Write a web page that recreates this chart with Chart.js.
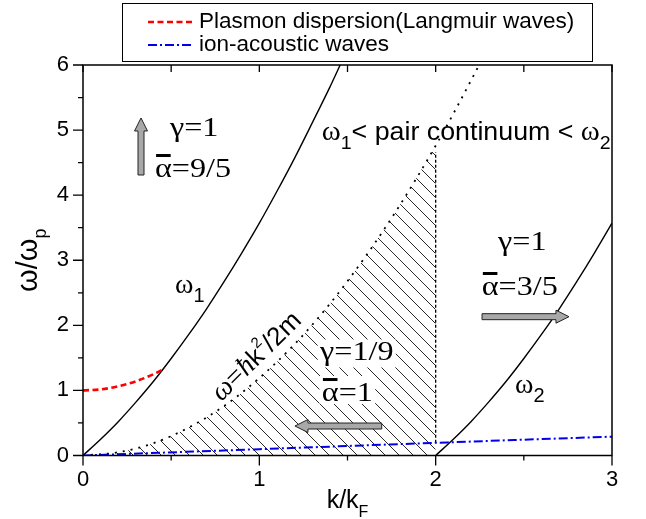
<!DOCTYPE html>
<html><head><meta charset="utf-8">
<script src="https://cdn.jsdelivr.net/npm/chart.js@4/dist/chart.umd.min.js"></script>
<style>html,body{margin:0;padding:0;background:#fff;}#wrap{width:646px;height:519px;}</style>
</head><body><div id="wrap"><canvas id="c" width="646" height="519"></canvas></div>
<script>
// ---- data (k/kF, omega/omega_p) ----
const kOmega1 = [0,0.1,0.2,0.3,0.4,0.5,0.6,0.7,0.8,0.9,1.0,1.1,1.2,1.3,1.4,1.46];
const omega1  = [0,0.25,0.52,0.82,1.14,1.49,1.86,2.25,2.67,3.11,3.57,4.06,4.57,5.11,5.66,6.01];
const kOmega2 = [2.0,2.1,2.2,2.3,2.4,2.5,2.6,2.7,2.8,2.9,3.0];
const omega2  = [0,0.25,0.52,0.82,1.14,1.49,1.86,2.25,2.67,3.11,3.57];
const kFree     = [0,0.2,0.4,0.6,0.8,1.0,1.2,1.4,1.6,1.8,2.0,2.1,2.2,2.25];
const omegaFree = [0,0.05,0.19,0.43,0.76,1.19,1.71,2.33,3.05,3.86,4.76,5.25,5.76,6.02];
const kPlasmon     = [0,0.1,0.2,0.3,0.4,0.465];
const omegaPlasmon = [1.0,1.016,1.063,1.14,1.25,1.34];
const kIon     = [0,1,2,3];
const omegaIon = [0,0.097,0.195,0.29];
const kEdge     = [2,2];
const omegaEdge = [0.195,4.66];
const hatchMaxK = 2;
const xTickValues = [0,1,2,3];
const xMinorTicks = [0.5,1.5,2.5];
const yTickValues = [0,1,2,3,4,5,6];
const yMinorTicks = [0.5,1.5,2.5,3.5,4.5,5.5];
const seriesLabels = ['Plasmon dispersion(Langmuir waves)','ion-acoustic waves'];

const pts = (xs, ys) => xs.map((x, i) => ({x, y: ys[i]}));

// hatch pattern
const HP = 14;
const pc = document.createElement('canvas'); pc.width = HP; pc.height = HP;
const pg = pc.getContext('2d');
pg.strokeStyle = '#111'; pg.lineWidth = 0.9;
pg.beginPath();
pg.moveTo(-1,-1); pg.lineTo(HP+1,HP+1);
pg.moveTo(-HP-1,-1); pg.lineTo(1,HP+1);
pg.moveTo(HP-1,-1); pg.lineTo(2*HP+1,HP+1);
pg.stroke();
const hatch = pg.createPattern(pc, 'repeat');

const SERIF = "'Liberation Serif','Times New Roman',serif";
const SANS = "'Liberation Sans',Arial,sans-serif";
const f = (size, fam, style) => (style ? style + ' ' : '') + size + 'px ' + fam;

const freeIdx = kFree.map((k,i)=>i).filter(i => kFree[i] <= hatchMaxK);

const datasets = [
  {label: seriesLabels[0], data: pts(kPlasmon, omegaPlasmon), borderColor:'#ff0000', borderDash:[6,3.5], borderWidth:2.6, inLegend:true},
  {label: seriesLabels[1], data: pts(kIon, omegaIon), borderColor:'#0000ee', borderDash:[9,3,2,3], borderWidth:2, inLegend:true},
  {label:'omega1', data: pts(kOmega1, omega1), borderColor:'#000', borderWidth:1.4},
  {label:'omega2', data: pts(kOmega2, omega2), borderColor:'#000', borderWidth:1.4},
  {label:'free', data: pts(kFree, omegaFree), borderColor:'#000', borderDash:[2,6], borderWidth:1.8},
  {label:'edge', data: pts(kEdge, omegaEdge), borderColor:'#000', borderDash:[3,2], borderWidth:1.3, cubicInterpolationMode:'default'},
  {label:'hatch', data: freeIdx.map(i => ({x:kFree[i], y:omegaFree[i]})), borderWidth:0, borderColor:'rgba(0,0,0,0)', fill:'origin', backgroundColor: hatch}
];
datasets.forEach(d => { d.showLine = true; d.pointRadius = 0; d.pointHoverRadius = 0; if (!d.cubicInterpolationMode) d.cubicInterpolationMode = 'monotone'; });

// annotations (data units)
const texts = [
  {k:0.493, w:4.909, sx:1.15, parts:[{t:'γ=1', f:f(28,SERIF)}]},
  {k:0.408, w:4.279, sx:1.15, parts:[{t:'α', f:f(28,SERIF), bar:true},{t:'=9/5', f:f(28,SERIF)}]},
  {k:0.522, w:2.497, parts:[{t:'ω', f:f(28,SERIF)},{t:'1', f:f(20,SANS), dy:9}]},
  {k:1.354, w:4.848, sx:1.03, parts:[{t:'ω', f:f(28,SERIF)},{t:'1', f:f(19,SANS), dy:9},{t:'< pair continuum < ', f:f(26,SANS)},{t:'ω', f:f(28,SERIF)},{t:'2', f:f(19,SANS), dy:9}]},
  {k:2.354, w:3.158, sx:1.15, parts:[{t:'γ=1', f:f(28,SERIF)}]},
  {k:2.261, w:2.466, sx:1.15, parts:[{t:'α', f:f(28,SERIF), bar:true},{t:'=3/5', f:f(28,SERIF)}]},
  {k:2.450, w:0.960, parts:[{t:'ω', f:f(28,SERIF)},{t:'2', f:f(20,SANS), dy:9}]},
  {k:1.344, w:1.460, sx:1.15, bg:[21,7], parts:[{t:'γ=1/9', f:f(28,SERIF)}]},
  {k:1.354, w:0.837, sx:1.15, bg:[25,3], parts:[{t:'α', f:f(28,SERIF), bar:true},{t:'=1', f:f(28,SERIF)}]},
  {k:1.015, w:1.437, rot:-44.5, center:true, parts:[{t:'ω', f:f(28,SERIF,'italic')},{t:'=', f:f(28,SERIF)},{t:'ħ', f:f(28,SERIF,'italic')},{t:'k', f:f(26,SANS)},{t:'2', f:f(15,SANS), dy:-13},{t:'/2m', f:f(26,SANS)}]}
];
const arrows = [
  {k1:0.329, w1:4.310, k2:0.329, w2:5.186},
  {k1:2.263, w1:2.133, k2:2.756, w2:2.133},
  {k1:1.694, w1:0.453, k2:1.202, w2:0.453}
];

function drawRich(ctx, x, y, o) {
  ctx.save();
  ctx.translate(x, y);
  if (o.rot) ctx.rotate(o.rot * Math.PI / 180);
  ctx.scale(o.sx || 1, 1);
  ctx.textAlign = 'left'; ctx.textBaseline = 'alphabetic';
  const ms = o.parts.map(p => { ctx.font = p.f; return ctx.measureText(p.t).width; });
  const w = ms.reduce((a,b)=>a+b, 0);
  let cx = o.center ? -w/2 : 0;
  if (o.bg) { ctx.fillStyle = '#fff'; ctx.fillRect(cx-2, -o.bg[0], w+4, o.bg[0]+o.bg[1]); }
  ctx.fillStyle = '#000';
  o.parts.forEach((p, i) => {
    ctx.font = p.f;
    ctx.fillText(p.t, cx, p.dy || 0);
    if (p.bar) ctx.fillRect(cx + 1, -23, ms[i] - 2, 3);
    cx += ms[i];
  });
  ctx.restore();
}

function drawArrow(ctx, x1, y1, x2, y2) {
  const dx = x2-x1, dy = y2-y1, L = Math.hypot(dx, dy);
  const ux = dx/L, uy = dy/L, nx = -uy, ny = ux;
  const hw = 3, hh = 6.5, hl = 13;
  const bx = x2 - ux*hl, by = y2 - uy*hl;
  ctx.beginPath();
  ctx.moveTo(x1 + nx*hw, y1 + ny*hw);
  ctx.lineTo(bx + nx*hw, by + ny*hw);
  ctx.lineTo(bx + nx*hh, by + ny*hh);
  ctx.lineTo(x2, y2);
  ctx.lineTo(bx - nx*hh, by - ny*hh);
  ctx.lineTo(bx - nx*hw, by - ny*hw);
  ctx.lineTo(x1 - nx*hw, y1 - ny*hw);
  ctx.closePath();
  ctx.fillStyle = '#a8a8a8'; ctx.fill();
  ctx.strokeStyle = '#222'; ctx.lineWidth = 1; ctx.setLineDash([]); ctx.stroke();
}

const decor = {
  id: 'decor',
  afterDatasetsDraw(chart) {
    const {ctx, chartArea: a, scales: {x, y}} = chart;
    const X = v => x.getPixelForValue(v), Y = v => y.getPixelForValue(v);
    ctx.save();
    texts.forEach(t => drawRich(ctx, X(t.k), Y(t.w), t));
    arrows.forEach(r => drawArrow(ctx, X(r.k1), Y(r.w1), X(r.k2), Y(r.w2)));
    ctx.setLineDash([]);
    ctx.strokeStyle = '#000'; ctx.lineWidth = 1.5;
    ctx.strokeRect(a.left, a.top, a.right - a.left, a.bottom - a.top);
    ctx.lineWidth = 1.3; ctx.beginPath();
    xTickValues.forEach(v => { const px = X(v); ctx.moveTo(px, a.bottom); ctx.lineTo(px, a.bottom + 10); ctx.moveTo(px, a.top); ctx.lineTo(px, a.top + 7); });
    xMinorTicks.forEach(v => { const px = X(v); ctx.moveTo(px, a.bottom); ctx.lineTo(px, a.bottom + 5); ctx.moveTo(px, a.top); ctx.lineTo(px, a.top + 7); });
    yTickValues.forEach(v => { const py = Y(v); ctx.moveTo(a.left, py); ctx.lineTo(a.left - 10, py); });
    yMinorTicks.forEach(v => { const py = Y(v); ctx.moveTo(a.left, py); ctx.lineTo(a.left - 5, py); });
    ctx.stroke();
    const xc = (a.left + a.right) / 2;
    drawRich(ctx, xc, 508, {center:true, parts:[{t:'k/k', f:f(25,SANS)},{t:'F', f:f(16,SANS), dy:9}]});
    drawRich(ctx, 37, (a.top + a.bottom)/2, {center:true, rot:-90, parts:[{t:'ω/ω', f:f(29,SANS)},{t:'p', f:f(18,SANS), dy:9}]});
    const L = {x1:122, y1:3, x2:592, y2:61};
    ctx.lineWidth = 1; ctx.strokeStyle = '#000';
    ctx.strokeRect(L.x1 + 0.5, L.y1 + 0.5, L.x2 - L.x1, L.y2 - L.y1);
    const rows = [22, 45];
    chart.data.datasets.filter(d => d.inLegend).forEach((d, i) => {
      ctx.beginPath();
      ctx.strokeStyle = d.borderColor; ctx.lineWidth = d.borderWidth; ctx.setLineDash(d.borderDash || []);
      ctx.moveTo(148, rows[i]); ctx.lineTo(194, rows[i]); ctx.stroke();
      ctx.setLineDash([]);
      ctx.fillStyle = '#000'; ctx.font = f(22.5, SANS); ctx.textAlign = 'left'; ctx.textBaseline = 'middle';
      ctx.fillText(d.label, 199, rows[i]);
    });
    ctx.restore();
  }
};

new Chart(document.getElementById('c'), {
  type: 'scatter',
  data: {datasets},
  options: {
    responsive: false, animation: false,
    layout: {padding: {top: 65, right: 34, bottom: 0, left: 0}},
    plugins: {legend: {display: false}, tooltip: {enabled: false}},
    scales: {
      x: {type:'linear', min:0, max:3, position:'bottom',
          afterFit: s => { s.height = 63.5; },
          afterBuildTicks: s => { s.ticks = xTickValues.map(v => ({value: v})); },
          ticks: {font:{family:SANS, size:22}, color:'#000', padding:11, maxRotation:0, callback: v => String(v)},
          grid: {display:false, drawTicks:false}, border: {display:false}},
      y: {type:'linear', min:0, max:6, position:'left',
          afterFit: s => { s.width = 83; },
          afterBuildTicks: s => { s.ticks = yTickValues.map(v => ({value: v})); },
          ticks: {font:{family:SANS, size:22}, color:'#000', padding:14, callback: v => String(v)},
          grid: {display:false, drawTicks:false}, border: {display:false}}
    }
  },
  plugins: [decor]
});
</script>
</body></html>
